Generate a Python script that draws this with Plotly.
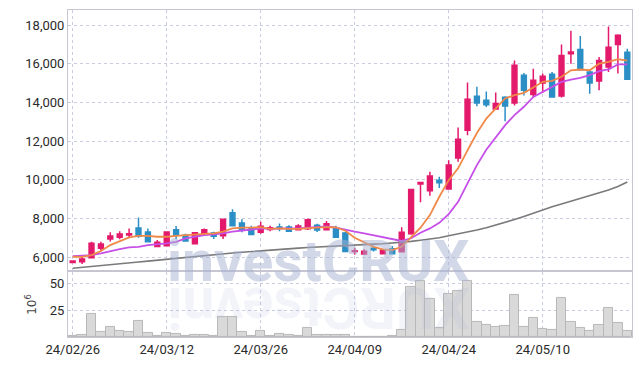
import plotly.graph_objects as go

dates = ["24/02/26","24/02/27","24/02/28","24/02/29","24/03/04","24/03/05","24/03/06","24/03/07","24/03/08",
         "24/03/11","24/03/12","24/03/13","24/03/14","24/03/15","24/03/18","24/03/19","24/03/20","24/03/21","24/03/22",
         "24/03/25","24/03/26","24/03/27","24/03/28","24/03/29","24/04/01","24/04/02","24/04/03","24/04/04","24/04/05",
         "24/04/08","24/04/09","24/04/11","24/04/12","24/04/15","24/04/16","24/04/17","24/04/18","24/04/19",
         "24/04/22","24/04/23","24/04/24","24/04/25","24/04/26","24/04/29","24/04/30","24/05/02","24/05/03",
         "24/05/07","24/05/08","24/05/09","24/05/10","24/05/13","24/05/14","24/05/16","24/05/17",
         "24/05/20","24/05/21","24/05/22","24/05/23","24/05/24"]

open_ = [5720,5760,5960,6450,6930,7030,7140,7500,7290,6550,6590,7410,7130,6690,7190,
         7240,7100,8290,7760,7480,7280,7430,7550,7550,7410,7460,7650,7410,7480,7240,
         6280,6160,6460,6170,6430,6270,7200,9780,9430,9980,9520,11130,12570,14320,14120,
         13670,14270,13980,15410,14410,15010,15460,14340,16530,16750,15580,15110,15840,17000,16600]
high = [5830,6050,6790,6790,7280,7340,7480,8050,7480,6880,7330,7600,7200,7300,7480,
        7310,7990,8480,7950,7620,7830,7620,7740,7650,7700,7990,7720,7860,7620,7300,
        6480,6400,6580,6360,6570,7540,9530,9880,10410,10150,11010,12710,15030,14810,14570,
        14520,14330,16180,15530,15750,15500,15580,17010,17720,17440,15700,16360,17940,17530,16790]
low = [5700,5640,5950,6330,6800,6920,6970,7000,6760,6530,6560,6920,6800,6650,7180,
       6930,6930,7600,7280,7150,7200,7330,7340,7330,7400,7400,7290,7390,7000,6260,
       6120,6100,6290,6150,6150,6250,7150,8830,9170,9580,9500,10930,12310,13810,13770,
       13640,13030,13850,14360,14260,14500,14260,14260,16010,15680,14460,14640,15580,15500,15180]
close = [5800,5900,6710,6670,7090,7190,7200,7070,6790,6760,7290,7140,6830,7260,7410,
         7070,7960,7620,7410,7170,7590,7520,7500,7340,7600,7930,7400,7720,7030,6290,
         6320,6300,6380,6350,6170,7280,9500,9860,10190,9840,10760,12100,14170,13980,13880,
         13950,13820,15930,14640,15150,15360,14290,16440,16610,15700,15010,16180,16860,17480,15200]

ma_short = [6015,6010,6100,6310,6620,6840,7020,7090,7090,7050,7050,7100,7140,7170,7200,
            7220,7310,7480,7520,7520,7550,7460,7480,7460,7460,7500,7540,7550,7540,7360,
            7000,6780,6530,6400,6360,6530,7020,7520,8170,9120,9980,10590,11520,12420,13170,
            13700,14210,14380,14500,14780,15070,15120,15330,15670,15710,15670,16010,16100,16250,16170]
ma_mid = [6050,6090,6100,6190,6310,6410,6500,6530,6620,6660,6710,6790,6970,7050,7140,
          7170,7220,7310,7360,7410,7480,7460,7480,7480,7480,7520,7550,7590,7520,7400,
          7310,7220,7120,7020,6920,6830,6970,7260,7480,7770,8220,8860,9810,10760,11550,
          12220,12830,13350,13780,14290,14550,14810,15070,15190,15280,15420,15620,15710,15970,15970]
ma_long = [5420,5460,5500,5540,5590,5640,5690,5740,5790,5840,5890,5930,5980,6030,6080,
           6130,6170,6210,6250,6290,6330,6360,6400,6430,6460,6490,6520,6550,6580,6610,
           6630,6650,6670,6690,6720,6760,6810,6870,6930,7000,7100,7190,7290,7400,7520,
           7650,7790,7940,8100,8270,8450,8600,8740,8880,9020,9160,9310,9470,9650,9880]

volume = [0.6,2.4,22,5.1,9.3,6,5.1,15,4.2,1.2,4.2,3.3,1.2,2.1,2.1,
          1.2,19,18.4,5.1,1.2,6,1.2,3.3,2.4,1.2,8.4,2.4,2.4,2.4,2.4,
          0.3,0.3,0.3,0.1,0.6,6.9,46.7,52.7,36,8.4,40.6,43,52.7,14.2,11.4,
          9.6,10.5,39,9.6,17.5,7.5,6.6,36.7,14.2,8.7,6,11.4,27.7,13.2,6]

tick_idx = [0, 10, 20, 30, 40, 50]
tick_vals = [dates[i] for i in tick_idx]
tick_text = ["24/02/26", "24/03/12", "24/03/26", "24/04/09", "24/04/24", "24/05/10"]

UP = "#e3196b"
DOWN = "#2b8fc6"
FONT = "Roboto, sans-serif"
GRID = "#c9cbe0"
AXLINE = "#c6c6d2"

fig = go.Figure()

fig.add_trace(go.Bar(x=dates, y=volume, yaxis="y2", xaxis="x2",
                     marker=dict(color="#d9d9d9", line=dict(color="#b8b8b8", width=1)),
                     showlegend=False, hoverinfo="skip"))

fig.add_trace(go.Candlestick(x=dates, open=open_, high=high, low=low, close=close,
                             increasing=dict(line=dict(color=UP, width=1.5), fillcolor=UP),
                             decreasing=dict(line=dict(color=DOWN, width=1.5), fillcolor=DOWN),
                             whiskerwidth=0, showlegend=False))

fig.add_trace(go.Scatter(x=dates, y=ma_long, mode="lines",
                         line=dict(color="#7a7a7a", width=1.6), showlegend=False))
fig.add_trace(go.Scatter(x=dates, y=ma_mid, mode="lines",
                         line=dict(color="#c64fe8", width=1.8), showlegend=False))
fig.add_trace(go.Scatter(x=dates, y=ma_short, mode="lines",
                         line=dict(color="#f08848", width=1.8), showlegend=False))

fig.update_layout(
    width=642, height=366,
    margin=dict(l=68, r=10, t=10, b=29),
    paper_bgcolor="white", plot_bgcolor="white",
    font=dict(family=FONT, size=13, color="#2a2a2a"),
    boxgap=0.26,
    bargap=0,
    xaxis=dict(type="category", domain=[0, 1], anchor="y", range=[-0.5, 59.5],
               rangeslider=dict(visible=False), showticklabels=False, automargin=False,
               tickvals=tick_vals, showgrid=True, gridcolor=GRID, griddash="dot",
               showline=True, linecolor=AXLINE, mirror=True, ticks=""),
    yaxis=dict(domain=[0.205, 1], range=[5330, 18790], automargin=False,
               tickvals=[6000, 8000, 10000, 12000, 14000, 16000, 18000],
               tickformat=",d", showgrid=True, gridcolor=GRID, griddash="dot",
               showline=True, linecolor=AXLINE, mirror=True, ticks="", zeroline=False),
    xaxis2=dict(type="category", domain=[0, 1], anchor="y2", range=[-0.5, 59.5], automargin=False,
                tickvals=tick_vals, ticktext=tick_text, tickangle=0,
                showgrid=True, gridcolor=GRID, griddash="dot",
                showline=True, linecolor=AXLINE, mirror=True, ticks=""),
    yaxis2=dict(domain=[0, 0.199], range=[0, 61], tickvals=[25, 50], automargin=False,
                showgrid=True, gridcolor=GRID, griddash="dot",
                showline=True, linecolor=AXLINE, mirror=True, ticks="", zeroline=False,
                title=dict(text="10<sup>6</sup>", font=dict(family="DejaVu Sans", size=12, color="#444"),
                           standoff=10)),
    annotations=[
        dict(text="<b>investCRUX</b>", xref="paper", yref="paper", x=0.444, y=0.122,
             yanchor="bottom", xanchor="center", showarrow=False,
             font=dict(family="Roboto, Open Sans, sans-serif", size=57,
                       color="rgba(165,178,210,0.5)")),
        dict(text="<b>XURCtsevni</b>", xref="paper", yref="y2", x=0.444, y=61,
             yanchor="top", xanchor="center", textangle=180, showarrow=False,
             font=dict(family="Roboto, Open Sans, sans-serif", size=57,
                       color="rgba(165,178,210,0.14)")),
    ],
)

fig.write_html("out.html", config={"displayModeBar": False},
               post_script="document.body.style.margin='0';document.body.style.overflow='hidden';")
